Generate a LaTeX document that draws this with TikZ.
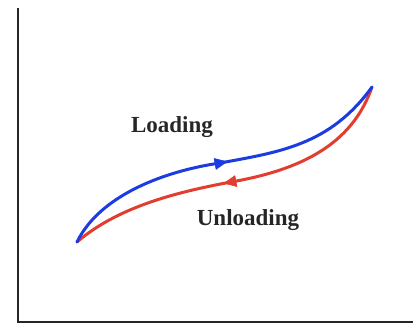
\documentclass[tikz,border=0pt]{standalone}
\usepackage{fontspec}
\setmainfont{Liberation Serif}
\definecolor{loadblue}{RGB}{28,60,225}
\definecolor{unloadred}{RGB}{225,62,48}
\begin{document}
\begin{tikzpicture}[x=1pt,y=-1pt,
  axis/.style={line width=2.2pt,draw=black!85},
  curve/.style={line width=3pt,line cap=round},
  head/.style={line width=0.6pt,line join=round},
  lbl/.style={font=\fontsize{23}{27}\selectfont\bfseries,text=black!85}]
\useasboundingbox (0,0) rectangle (419,329);
\coordinate (top) at (18,8);
\coordinate (origin) at (18,322);
\coordinate (right) at (413,322);
\coordinate (start) at (77,242);
\coordinate (end) at (372,87);
\coordinate (bmid) at (220,163);
\coordinate (rmid) at (231,182);
\draw[axis] (top) -- (origin) -- (right);
% unloading (red)
\draw[curve,draw=unloadred] (end) .. controls (352,145) and (300,170) .. (rmid);
\draw[curve,draw=unloadred] (rmid) .. controls (183,191) and (120,205) .. (start);
\filldraw[head,draw=unloadred,fill=unloadred] (224.1,183.2) -- (236.9,186.5) -- (234.9,175.7) -- cycle;
% loading (blue)
\draw[curve,draw=loadblue] (start) .. controls (100,195) and (165,171) .. (bmid);
\draw[curve,draw=loadblue] (bmid) .. controls (280,152) and (330,145) .. (end);
\filldraw[head,draw=loadblue,fill=loadblue] (226.9,161.7) -- (216.1,169.3) -- (214.1,158.5) -- cycle;
\node[lbl] (loading) at (172,127) {Loading};
\node[lbl] (unloading) at (248,220) {Unloading};
\end{tikzpicture}
\end{document}
